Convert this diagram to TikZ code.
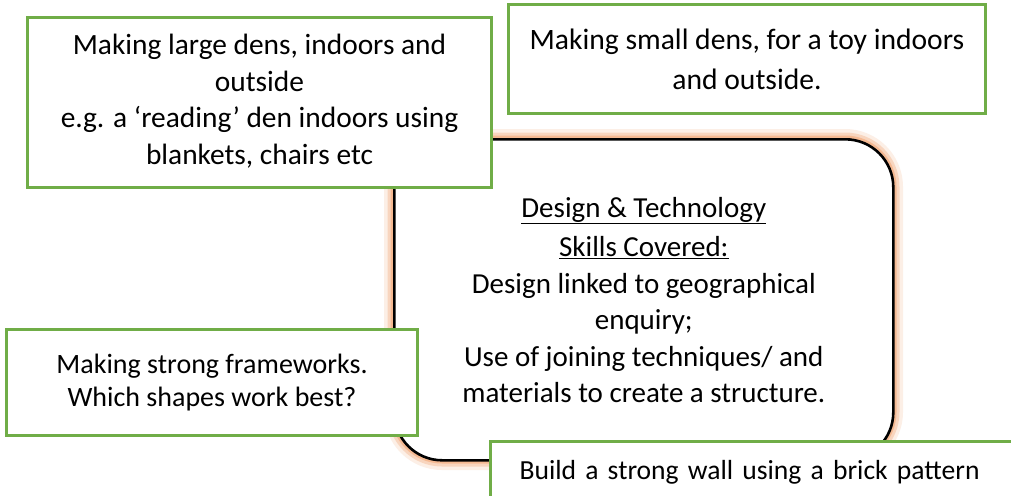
\documentclass[tikz,border=0pt]{standalone}
\usepackage{fontspec}
\setmainfont{Carlito}
\definecolor{boxgreen}{RGB}{112,173,71}
\definecolor{glow}{RGB}{244,176,132}
\tikzset{
  greenbox/.style={draw=boxgreen, line width=3pt, fill=white, inner sep=0pt, align=center, anchor=north west},
  hubbox/.style={draw=black, line width=2.6pt, fill=white, rounded corners=48pt, inner sep=0pt, align=center, anchor=north west}
}
\begin{document}
\begin{tikzpicture}[x=1pt,y=-1pt]
\clip (0,0) rectangle (1011,495);
\fill[white] (0,0) rectangle (1011,495);
% glow behind the central box
\draw[glow, opacity=0.2, line width=20pt, rounded corners=48pt] (394,139) rectangle (893,460);
\draw[glow, opacity=0.4, line width=13pt, rounded corners=48pt] (394,139) rectangle (893,460);
\draw[glow, opacity=0.75, line width=7pt, rounded corners=48pt] (394,139) rectangle (893,460);
% central box
\node[hubbox, minimum width=499pt, minimum height=321pt, font=\fontsize{29}{36.5}\selectfont] (hub) at (393,138)
  {\underline{Design \& Technology}\\[3pt]
   \underline{Skills Covered:}\\
   Design linked to geographical\\
   enquiry;\\
   Use of joining techniques/ and\\
   materials to create a structure.};
% outer boxes
\node[greenbox, minimum width=464pt, minimum height=170pt, font=\fontsize{29.4}{36.5}\selectfont, text depth=6pt] (large) at (26,16)
  {Making large dens, indoors and\\ outside\\ e.g. a ‘reading’ den indoors using\\ blankets, chairs etc};
\node[greenbox, minimum width=477pt, minimum height=109pt, font=\fontsize{29.6}{40}\selectfont] (small) at (507,3)
  {Making small dens, for a toy indoors\\ and outside.};
\node[greenbox, minimum width=411pt, minimum height=106pt, font=\fontsize{28}{33}\selectfont] (frame) at (5,328)
  {Making strong frameworks.\\ Which shapes work best?};
\node[greenbox, minimum height=62pt, text width=502pt, inner xsep=29pt, align=left, font=\fontsize{27.6}{34}\selectfont] (wall) at (489,440)
  {Build a strong wall using a brick pattern};
\end{tikzpicture}
\end{document}
